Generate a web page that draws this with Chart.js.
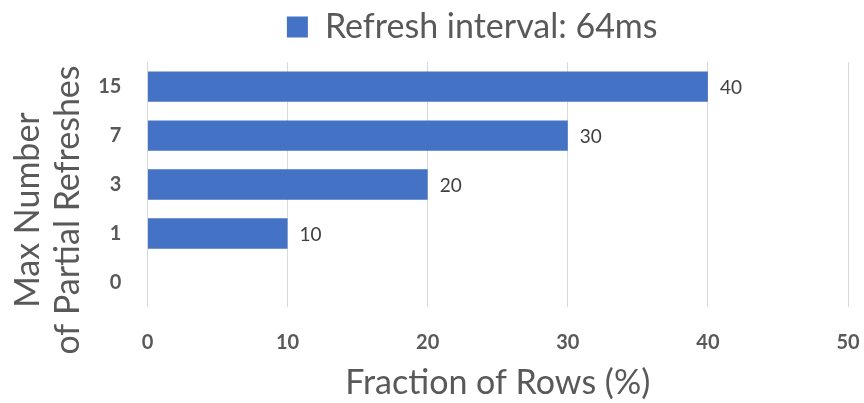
<!DOCTYPE html>
<html>
<head>
<meta charset="utf-8">
<script src="https://cdn.jsdelivr.net/npm/chart.js@4/dist/chart.umd.min.js"></script>
<style>
  html, body { margin: 0; padding: 0; background: #fff; overflow: hidden; }
  #wrap { width: 864px; height: 403px; position: relative; }
</style>
</head>
<body>
<div id="wrap"><canvas id="chart"></canvas></div>
<script>
// data
const refreshCounts = ["15", "7", "3", "1", "0"];
const rowFractions = [40, 30, 20, 10, 0];
const seriesName = "Refresh interval: 64ms";
const xTitle = "Fraction of Rows (%)";
// trailing en spaces push the rotated title down a little, like the original
const yTitle = ["Max Number\u2002\u2002\u2002", "of Partial Refreshes\u2002\u2002\u2002"];

const FONT = "Lato, Carlito, 'Liberation Sans', sans-serif";
const GREY = "#595959";

// value labels right of each bar
const barLabels = {
  id: "barLabels",
  afterDatasetsDraw(chart) {
    const ctx = chart.ctx;
    const meta = chart.getDatasetMeta(0);
    ctx.save();
    ctx.font = "19px " + FONT;
    ctx.fillStyle = "#404040";
    ctx.textAlign = "left";
    ctx.textBaseline = "middle";
    meta.data.forEach((bar, i) => {
      const v = chart.data.datasets[0].data[i];
      if (!v) return;
      ctx.fillText(String(v), bar.x + 12, bar.y + 1);
    });
    ctx.restore();
  }
};

const ctx = document.getElementById("chart").getContext("2d");
new Chart(ctx, {
  type: "bar",
  data: {
    labels: refreshCounts,
    datasets: [{
      label: seriesName,
      data: rowFractions,
      backgroundColor: "#4472C4",
      borderWidth: 0,
      barPercentage: 0.62,
      categoryPercentage: 1.0
    }]
  },
  options: {
    indexAxis: "y",
    responsive: true,
    maintainAspectRatio: false,
    animation: false,
    layout: { padding: { left: 0, right: 16, top: 0, bottom: 0 } },
    plugins: {
      legend: {
        position: "top",
        weight: 3000,
        fullSize: false,
        labels: {
          boxWidth: 21, boxHeight: 21, padding: 10, color: GREY,
          font: { family: FONT, size: 34 },
          // trailing spaces nudge the centred legend a bit left
          generateLabels(chart) {
            return Chart.defaults.plugins.legend.labels.generateLabels(chart)
              .map(item => ({ ...item, text: item.text + "\u2002\u2002\u2002" }));
          }
        }
      },
      // empty spacer between legend and plot
      subtitle: { display: true, text: "", font: { size: 1 }, padding: { top: 0, bottom: 7 } },
      tooltip: { enabled: false }
    },
    scales: {
      x: {
        min: 0, max: 50,
        ticks: { stepSize: 10, color: GREY, padding: 4, font: { family: FONT, size: 20, weight: "bold", lineHeight: 1 } },
        grid: { color: "#d9d9d9", lineWidth: 1, drawTicks: true, tickLength: 22, tickColor: "rgba(0,0,0,0)" },
        border: { display: false },
        title: { display: true, text: xTitle, color: GREY, padding: { top: 6, bottom: 0 }, font: { family: FONT, size: 34, lineHeight: 1.18 } }
      },
      y: {
        ticks: { color: GREY, padding: 4, font: { family: FONT, size: 20, weight: "bold" } },
        grid: { display: true, drawOnChartArea: false, drawTicks: true, tickLength: 22, tickColor: "rgba(0,0,0,0)" },
        border: { display: false },
        title: { display: true, text: yTitle, color: GREY, padding: { top: 8, bottom: 6 }, font: { family: FONT, size: 34, lineHeight: 1.18 } }
      }
    }
  },
  plugins: [barLabels]
});
</script>
</body>
</html>
